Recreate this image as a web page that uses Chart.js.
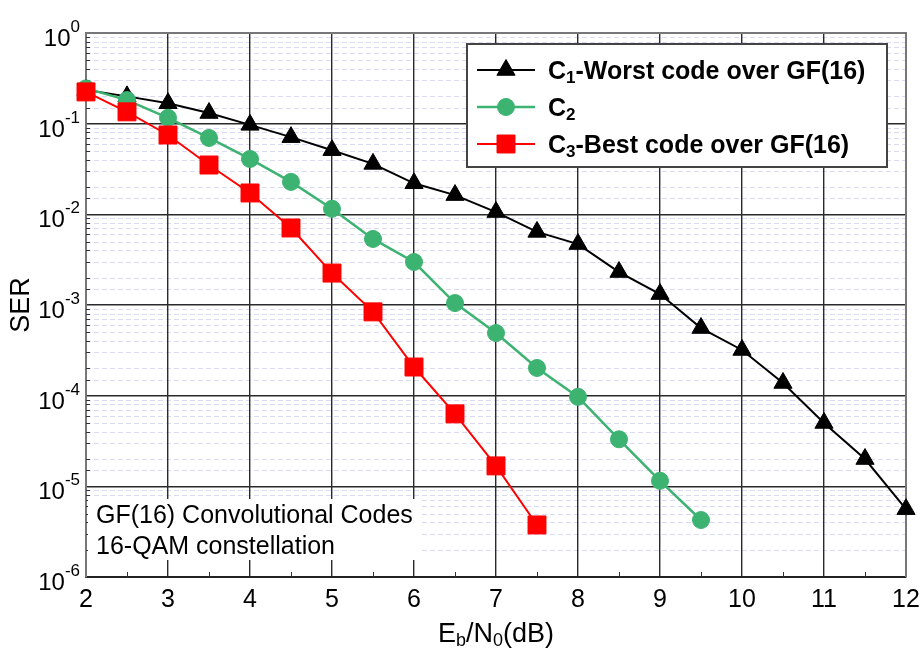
<!DOCTYPE html>
<html>
<head>
<meta charset="utf-8">
<script src="https://cdn.jsdelivr.net/npm/chart.js@4.4.1/dist/chart.umd.min.js"></script>
<style>
  html, body { margin: 0; padding: 0; background: #fff; }
  #wrap { width: 923px; height: 648px; position: relative; }
</style>
</head>
<body>
<div id="wrap"><canvas id="serChart"></canvas></div>
<script>
// Eb/N0 (dB) sample points
const ebn0 = [2, 2.5, 3, 3.5, 4, 4.5, 5, 5.5, 6, 6.5, 7, 7.5, 8, 8.5, 9, 9.5, 10, 10.5, 11, 11.5, 12];

// SER per code
const serC1 = [0.235, 0.2, 0.168, 0.131, 0.097, 0.071, 0.051, 0.036, 0.022, 0.0163, 0.0106,
               0.0064, 0.0047, 0.00231, 0.00132, 0.000557, 0.000319, 0.000138, 5.0e-5, 2.0e-5, 5.6e-6];
const serC2 = [0.245, 0.182, 0.116, 0.0695, 0.0408, 0.0228, 0.0115, 0.00535, 0.00298, 0.00105,
               0.00049, 0.000202, 9.7e-5, 3.3e-5, 1.15e-5, 4.25e-6];
const serC3 = [0.224, 0.135, 0.075, 0.035, 0.0172, 0.00707, 0.00225, 0.00084, 0.000207, 6.3e-5,
               1.68e-5, 3.75e-6];

const seriesNames = ['C_1-Worst code over GF(16)', 'C_2', 'C_3-Best code over GF(16)'];
const xTickValues = [2, 3, 4, 5, 6, 7, 8, 9, 10, 11, 12];
const yDecades = [1e-6, 1e-5, 1e-4, 1e-3, 1e-2, 1e-1, 1];
const xTitle = 'E_b/N_0(dB)';
const yTitle = 'SER';
const noteLines = ['GF(16) Convolutional Codes', '16-QAM constellation'];

const FONT = '"Liberation Sans", Arial, sans-serif';

function toPoints(ys) {
    return ys.map((y, i) => ({ x: ebn0[i], y: y }));
}

function isDecade(v) {
    const l = Math.log10(v);
    return Math.abs(l - Math.round(l)) < 1e-9;
}

// draws text where "_x" makes x a subscript
function drawSubText(ctx, str, x, y, size, bold, align) {
    const segs = [];
    for (let i = 0; i < str.length; i++) {
        if (str[i] === '_') {
            segs.push({ t: str[i + 1], sub: true });
            i++;
        } else if (segs.length && !segs[segs.length - 1].sub) {
            segs[segs.length - 1].t += str[i];
        } else {
            segs.push({ t: str[i], sub: false });
        }
    }
    const w = bold ? 'bold ' : '';
    const mainFont = w + size + 'px ' + FONT;
    const subFont = w + Math.round(size * 0.68) + 'px ' + FONT;
    let total = 0;
    segs.forEach(s => {
        ctx.font = s.sub ? subFont : mainFont;
        s.w = ctx.measureText(s.t).width;
        total += s.w;
    });
    let cx = x;
    if (align === 'center') cx = x - total / 2;
    if (align === 'right') cx = x - total;
    ctx.textAlign = 'left';
    ctx.textBaseline = 'alphabetic';
    segs.forEach(s => {
        ctx.font = s.sub ? subFont : mainFont;
        ctx.fillText(s.t, cx, s.sub ? y + size * 0.14 : y);
        cx += s.w;
    });
}

const decorPlugin = {
    id: 'decor',
    beforeDraw(chart) {
        const { ctx, chartArea: a, scales } = chart;
        const y = scales.y;
        ctx.save();
        ctx.strokeStyle = '#dadaf3';
        ctx.lineWidth = 1;
        ctx.setLineDash([5, 3]);
        y.ticks.forEach(t => {
            if (isDecade(t.value)) return;
            const py = Math.round(y.getPixelForValue(t.value)) + 0.5;
            ctx.beginPath();
            ctx.moveTo(a.left, py);
            ctx.lineTo(a.right, py);
            ctx.stroke();
        });
        ctx.restore();
    },
    beforeDatasetsDraw(chart) {
        const { ctx, chartArea: a, scales } = chart;
        ctx.save();
        // top and right frame
        ctx.strokeStyle = '#777';
        ctx.lineWidth = 2;
        ctx.beginPath();
        ctx.moveTo(a.left, a.top);
        ctx.lineTo(a.right, a.top);
        ctx.lineTo(a.right, a.bottom);
        ctx.stroke();
        // minor ticks
        ctx.strokeStyle = '#333';
        ctx.lineWidth = 1;
        for (let i = 0; i < xTickValues.length - 1; i++) {
            const px = Math.round(scales.x.getPixelForValue(xTickValues[i] + 0.5)) + 0.5;
            ctx.beginPath();
            ctx.moveTo(px, a.bottom);
            ctx.lineTo(px, a.bottom - 5);
            ctx.stroke();
        }
        scales.y.ticks.forEach(t => {
            if (isDecade(t.value)) return;
            const py = Math.round(scales.y.getPixelForValue(t.value)) + 0.5;
            ctx.beginPath();
            ctx.moveTo(a.left, py);
            ctx.lineTo(a.left + 4, py);
            ctx.stroke();
        });
        ctx.restore();
    },
    afterDraw(chart) {
        const { ctx, chartArea: a, scales } = chart;
        ctx.save();
        ctx.fillStyle = '#000';

        // y tick labels 10^n
        yDecades.forEach(v => {
            const py = scales.y.getPixelForValue(v);
            const exp = String(Math.round(Math.log10(v)));
            ctx.textBaseline = 'alphabetic';
            ctx.textAlign = 'right';
            ctx.font = '17px ' + FONT;
            const ew = ctx.measureText(exp).width;
            const rx = a.left - 6;
            ctx.fillText(exp, rx, py - 1);
            ctx.font = '24px ' + FONT;
            ctx.fillText('10', rx - ew, py + 13);
        });

        // axis titles
        drawSubText(ctx, xTitle, (a.left + a.right) / 2, a.bottom + 65, 27, false, 'center');
        ctx.save();
        ctx.translate(22, (a.top + a.bottom) / 2);
        ctx.rotate(-Math.PI / 2);
        ctx.font = '27px ' + FONT;
        ctx.textAlign = 'center';
        ctx.textBaseline = 'middle';
        ctx.fillText(yTitle, 0, 0);
        ctx.restore();

        // legend
        const lx = a.right - 439, ly = a.top + 11, lw = 420, lh = 123;
        ctx.fillStyle = '#fff';
        ctx.fillRect(lx, ly, lw, lh);
        ctx.strokeStyle = '#444';
        ctx.lineWidth = 2;
        ctx.strokeRect(lx, ly, lw, lh);
        chart.data.datasets.forEach((ds, i) => {
            const ry = ly + 26 + i * 37;
            ctx.strokeStyle = ds.borderColor;
            ctx.lineWidth = ds.borderWidth;
            ctx.beginPath();
            ctx.moveTo(lx + 10, ry);
            ctx.lineTo(lx + 68, ry);
            ctx.stroke();
            ctx.fillStyle = ds.backgroundColor;
            ctx.strokeStyle = ds.borderColor;
            ctx.lineWidth = 1;
            Chart.helpers.drawPoint(ctx, {
                pointStyle: ds.pointStyle, rotation: 0,
                radius: ds.pointRadius, borderWidth: 1
            }, lx + 39, ry);
            ctx.fillStyle = '#000';
            drawSubText(ctx, ds.label, lx + 81, ry + 9, 25, true, 'left');
        });

        // note box
        const nx = a.left + 2, ny = a.bottom - 78;
        ctx.fillStyle = '#fff';
        ctx.fillRect(nx, ny, 333, 61);
        ctx.fillStyle = '#000';
        noteLines.forEach((line, i) => {
            ctx.font = '25px ' + FONT;
            ctx.textAlign = 'left';
            ctx.textBaseline = 'middle';
            ctx.fillText(line, nx + 8, ny + 17 + i * 31);
        });
        ctx.restore();
    }
};

document.addEventListener("DOMContentLoaded", () => {
    const ctx = document.getElementById("serChart");

    new Chart(ctx, {
        type: 'line',
        data: {
            datasets: [{
                label: seriesNames[0],
                data: toPoints(serC1),
                borderColor: '#000000',
                backgroundColor: '#000000',
                borderWidth: 2,
                pointStyle: 'triangle',
                pointRadius: 10.5,
                pointBorderWidth: 1,
                order: 3,
                clip: false
            }, {
                label: seriesNames[1],
                data: toPoints(serC2),
                borderColor: '#3cb371',
                backgroundColor: '#3cb371',
                borderWidth: 2.5,
                pointStyle: 'circle',
                pointRadius: 8.5,
                pointBorderWidth: 1,
                order: 2,
                clip: false
            }, {
                label: seriesNames[2],
                data: toPoints(serC3),
                borderColor: '#ff0000',
                backgroundColor: '#ff0000',
                borderWidth: 2,
                pointStyle: 'rect',
                pointRadius: 12.7,
                pointBorderWidth: 1,
                order: 1,
                clip: false
            }]
        },
        options: {
            responsive: true,
            maintainAspectRatio: false,
            animation: false,
            layout: { padding: { top: 33, right: 17, left: 0, bottom: 0 } },
            plugins: {
                legend: { display: false },
                tooltip: { enabled: false }
            },
            scales: {
                x: {
                    type: 'linear',
                    min: 2,
                    max: 12,
                    afterBuildTicks: s => { s.ticks = xTickValues.map(v => ({ value: v })); },
                    afterFit: s => { s.height = 71; s.paddingLeft = 0; s.paddingRight = 0; },
                    grid: { color: '#2a2a2a', lineWidth: 1.4, drawTicks: false },
                    border: { color: '#222', width: 2 },
                    ticks: {
                        color: '#000',
                        padding: 8,
                        maxRotation: 0,
                        font: { size: 25, family: FONT }
                    }
                },
                y: {
                    type: 'logarithmic',
                    min: 1e-6,
                    max: 1,
                    afterFit: s => { s.width = 86; s.paddingTop = 0; s.paddingBottom = 0; },
                    grid: {
                        color: c => isDecade(c.tick.value) ? '#2a2a2a' : 'rgba(0,0,0,0)',
                        lineWidth: 1.4,
                        drawTicks: false
                    },
                    border: { color: '#777', width: 2 },
                    ticks: { display: false }
                }
            }
        },
        plugins: [decorPlugin]
    });
});
</script>
</body>
</html>
